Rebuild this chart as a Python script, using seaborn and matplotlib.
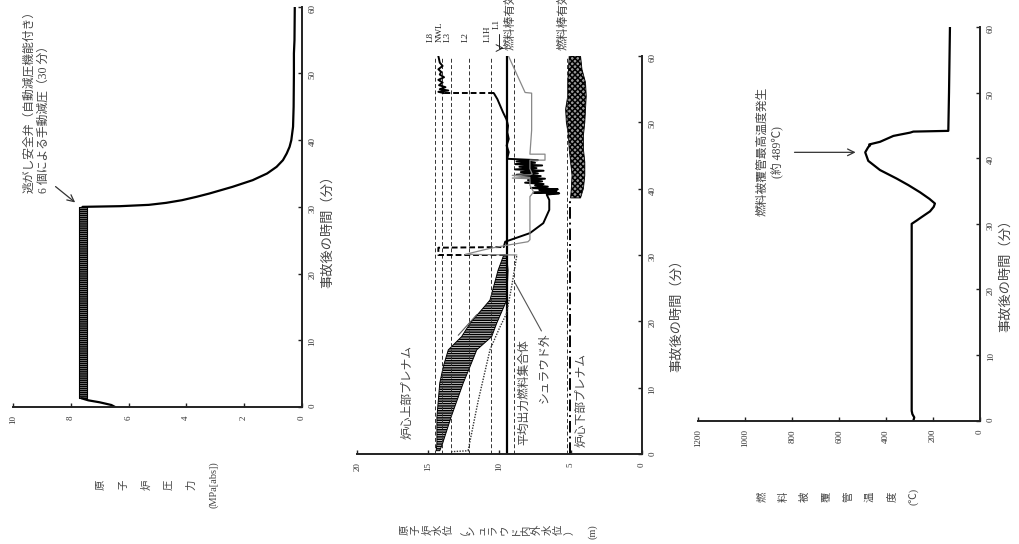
import matplotlib
matplotlib.use("Agg")
import matplotlib.pyplot as plt
import seaborn as sns

# ---------------- panel 1 : reactor pressure ----------------
press_start_t = [0.0, 0.3, 0.7, 1.0, 1.3]
press_start_p = [6.47, 6.6, 7.0, 7.4, 7.63]
relief_t = [1.3, 30.0]            # SRV cycling band
relief_lo = [7.45, 7.45]
relief_hi = [7.72, 7.72]
depress_t = [30.0, 30.1, 30.3, 30.6, 31.0, 31.5, 32.0, 33.0, 34.0, 35.0, 36.0,
             37.0, 38.0, 39.0, 40.0, 42.0, 45.0, 50.0, 53.0, 55.0, 60.0]
depress_p = [7.6, 6.3, 5.3, 4.7, 4.15, 3.65, 3.2, 2.4, 1.7, 1.2, 0.87,
             0.65, 0.52, 0.42, 0.36, 0.3, 0.28, 0.27, 0.27, 0.25, 0.24]

# ---------------- panel 2 : water level ----------------
level_values = [14.54, 14.07, 13.41, 12.14, 10.62]
level_names = ["L8", "NWL", "L3", "L2", "L1H"]
fuel_top = 8.95
fuel_bottom = 5.27
l1_level = 9.45

band_t = [0.5, 1.6, 5.6, 10.7, 13.2, 15.7, 17.7, 19.7, 23.2, 27.7, 30.0]
band_hi = [14.45, 14.4, 14.4, 14.2, 13.95, 13.6, 12.66, 12.07, 10.67, 10.1, 9.7]
band_lo = [14.2, 14.0, 13.4, 12.55, 12.07, 11.6, 10.55, 10.2, 9.49, 9.4, 9.5]

plenum_jump_t = [30.0, 30.0, 31.1, 31.2]
plenum_jump_l = [9.6, 14.3, 14.3, 9.7]
plenum_t = [31.2, 32.0, 33.3, 34.8, 36.8, 38.3, 39.1,
            39.3, 39.4, 39.6, 39.8, 39.9, 40.1, 40.3, 40.5, 40.7, 40.9, 41.1,
            41.3, 41.5, 41.7, 41.9, 42.1, 42.3, 42.5, 42.7, 42.9, 43.1, 43.3,
            43.5, 43.7, 43.9, 44.1, 44.3, 44.5,
            44.6, 45.5, 46.5, 47.5, 48.5, 49.5, 50.4, 51.5, 52.5, 53.5, 54.4]
plenum_l = [9.7, 9.6, 7.86, 6.92, 6.5, 6.5, 6.68,
            5.8, 7.6, 6.0, 7.2, 5.9, 7.8, 6.6, 7.5, 6.9, 8.2, 7.0,
            8.0, 6.8, 8.4, 7.1, 8.8, 7.3, 8.5, 6.9, 8.9, 7.4, 8.6,
            7.0, 8.9, 7.5, 8.8, 7.3, 9.45,
            9.45, 9.35, 9.5, 9.35, 9.45, 9.4, 9.5, 9.75, 9.95, 10.15, 10.4]
refill_jump_t = [54.4, 54.4]
refill_jump_l = [10.4, 13.9]
refill_t = [54.4, 54.6, 54.8, 55.0, 55.3, 55.6, 56.0, 56.4, 56.8, 57.2,
            57.6, 58.0, 58.5, 59.0, 59.5, 60.0]
refill_l = [13.9, 14.3, 13.6, 14.2, 13.8, 14.25, 14.0, 14.3, 13.9, 14.2,
            14.1, 14.3, 14.0, 14.2, 14.25, 14.3]

shroud_pre_t = [0.35, 0.5, 0.6, 8.0, 15.7, 19.0, 21.2, 25.8, 30.0]
shroud_pre_l = [13.4, 12.1, 12.2, 11.5, 10.67, 10.0, 9.5, 9.1, 8.78]
shroud_post_t = [30.0, 30.1, 31.0, 31.5, 32.0, 32.3, 38.8, 39.5, 40.5, 41.5,
                 41.6, 41.7, 42.0, 42.1, 42.2, 43.0, 44.3, 44.3, 45.2, 45.2,
                 48.8, 54.4, 54.5, 60.0]
shroud_post_l = [8.78, 12.4, 10.67, 9.4, 8.0, 7.86, 7.86, 7.6, 7.86, 7.86,
                 9.1, 7.86, 9.1, 7.86, 7.7, 7.86, 7.86, 6.8, 6.8, 7.86,
                 7.74, 7.74, 8.2, 9.37]

lower_t = [0.0, 38.6]
lower_l = [5.04, 5.04]
lower_noise_t = [38.6, 40, 42, 44, 46, 48, 50, 52, 54, 56, 58, 60]
lower_noise_hi = [5.0, 4.95, 4.9, 5.0, 5.1, 5.15, 5.3, 5.35, 5.2, 5.2, 5.15, 5.1]
lower_noise_lo = [4.3, 4.1, 4.0, 4.0, 4.1, 4.1, 4.0, 3.95, 3.9, 3.95, 4.2, 4.3]

# ---------------- panel 3 : cladding temperature ----------------
temp_t = [0.0, 0.5, 1.0, 1.5, 30.0, 30.5, 31.0, 31.9, 32.6, 33.1, 33.8, 34.8,
          35.9, 36.9, 38.2, 39.6, 40.9, 41.7, 41.96, 42.1, 42.5, 43.4, 43.6,
          43.9, 44.06, 44.17, 50.0, 60.0]
temp_c = [284, 280, 288, 291, 291, 270, 250, 213, 197, 192, 215, 255,
          305, 355, 426, 476, 489, 476, 468, 472, 426, 369, 341,
          298, 284, 135, 132, 128]

W, H = 1020, 544


def box(x0, x1, y_top, y_bot):
    return [x0 / W, 1 - y_bot / H, (x1 - x0) / W, (y_bot - y_top) / H]


def fpx(x, y):
    return x / W, 1 - y / H


def style_axis(ax, xmax, xstep):
    ax.set_xlim(xmax, 0)
    ax.set_ylim(0, 60)
    ax.set_xticks(range(0, xmax + 1, xstep))
    ax.set_yticks(range(0, 61, 10))
    ax.set_xlabel("")
    ax.set_ylabel("")
    for s in ["left", "top"]:
        ax.spines[s].set_visible(False)
    for s in ["right", "bottom"]:
        ax.spines[s].set_linewidth(1.4)
        ax.spines[s].set_color("#222")
    ax.yaxis.tick_right()
    ax.tick_params(direction="in", length=3, width=1, labelsize=6.5,
                   labelcolor="#333", color="#222")
    ax.tick_params(axis="x", labelrotation=90, pad=6, bottom=True)
    ax.tick_params(axis="y", labelrotation=90, pad=5, right=True)
    ax.set_facecolor("none")


sns.set_theme(style="white")
plt.rcParams["font.family"] = ["Liberation Serif", "Noto Sans CJK JP"]
plt.rcParams["hatch.linewidth"] = 1.1
plt.rcParams["axes.unicode_minus"] = False

fig = plt.figure(figsize=(10.2, 5.44), dpi=100)
ax1 = fig.add_axes(box(13.3, 301.7, 6.7, 407))
ax2 = fig.add_axes(box(357.3, 641.7, 56, 454))
ax3 = fig.add_axes(box(698.3, 980, 27, 420.7))

txt = "#444"
cjk = ["Noto Sans CJK JP", "DejaVu Sans"]

# ---- panel 1
sns.lineplot(x=press_start_p, y=press_start_t, sort=False, estimator=None,
             color="black", lw=1.6, ax=ax1)
ax1.fill_betweenx(relief_t, relief_lo, relief_hi, facecolor="#bbb",
                  edgecolor="black", hatch="--------", linewidth=0.8)
sns.lineplot(x=depress_p, y=depress_t, sort=False, estimator=None,
             color="black", lw=1.6, ax=ax1)
style_axis(ax1, 10, 2)
ax1.text(9.66, 32.1, "逃がし安全弁（自動減圧機能付き）\n6 個による手動減圧（30 分）",
         rotation=90, ha="left", va="bottom", multialignment="left",
         fontsize=8.5, color=txt, linespacing=1.25)
ax1.annotate("", xy=(7.78, 30.4), xytext=(8.61, 33.3),
             arrowprops=dict(arrowstyle="->", color="#333", lw=0.9))

# ---- panel 2
for lv in level_values + [fuel_top, fuel_bottom]:
    ax2.axvline(lv, color="#333", lw=0.7, linestyle=(0, (4, 2.5)))
ax2.axvline(l1_level, color="black", lw=1.6)
ax2.fill_betweenx(band_t, band_lo, band_hi, facecolor="#ddd",
                  edgecolor="black", hatch="-------", linewidth=0.7)
sns.lineplot(x=plenum_jump_l, y=plenum_jump_t, sort=False, estimator=None,
             color="black", lw=1.4, linestyle=(0, (3, 1.5)), ax=ax2)
sns.lineplot(x=plenum_l, y=plenum_t, sort=False, estimator=None,
             color="black", lw=1.4, ax=ax2)
sns.lineplot(x=refill_jump_l, y=refill_jump_t, sort=False, estimator=None,
             color="black", lw=1.4, linestyle=(0, (3, 1.5)), ax=ax2)
sns.lineplot(x=refill_l, y=refill_t, sort=False, estimator=None,
             color="black", lw=1.4, ax=ax2)
sns.lineplot(x=shroud_pre_l, y=shroud_pre_t, sort=False, estimator=None,
             color="#333", lw=1.0, linestyle=(0, (1, 1)), ax=ax2)
sns.lineplot(x=shroud_post_l, y=shroud_post_t, sort=False, estimator=None,
             color="#888", lw=0.9, ax=ax2)
sns.lineplot(x=lower_l, y=lower_t, sort=False, estimator=None,
             color="black", lw=1.4, linestyle=(0, (6, 2, 1, 2)), ax=ax2)
ax2.fill_betweenx(lower_noise_t, lower_noise_lo, lower_noise_hi,
                  facecolor="#999", edgecolor="black", hatch="xxxxxx",
                  linewidth=0.6)
style_axis(ax2, 20, 5)

label_offsets = [0.32, 0.1, 0.2, 0.22, 0.22]
for lv, name, off in zip(level_values, level_names, label_offsets):
    ax2.text(lv + off, 62.1, name, rotation=90, ha="center", va="bottom",
             fontsize=6.5, color="#222", clip_on=False)
ax2.text(10.18, 64.0, "L1", rotation=90, ha="center", va="bottom",
         fontsize=6.5, color="#222", clip_on=False)
ax2.annotate("", xy=(9.5, 61.2), xytext=(10.0, 63.8), annotation_clip=False,
             arrowprops=dict(arrowstyle="->", color="#222", lw=0.7,
                             connectionstyle="angle,angleA=-90,angleB=180,rad=0"))
ax2.text(fuel_top + 0.3, 60.9, "燃料棒有効長頂部", rotation=90, ha="center",
         va="bottom", fontsize=8.5, color=txt, family=cjk, clip_on=False)
ax2.text(fuel_bottom + 0.3, 60.9, "燃料棒有効長底部", rotation=90, ha="center",
         va="bottom", fontsize=8.5, color=txt, family=cjk, clip_on=False)
ax2.text(16.5, 9.35, "炉心上部プレナム", rotation=90, ha="center", va="center",
         fontsize=8.5, color=txt, family=cjk)
ax2.text(8.28, 9.35, "平均出力燃料集合体", rotation=90, ha="center", va="center",
         fontsize=8.5, color=txt, family=cjk)
ax2.text(6.87, 12.97, "シュラウド外", rotation=90, ha="center", va="center",
         fontsize=8.5, color=txt, family=cjk)
ax2.text(4.27, 8.1, "炉心下部プレナム", rotation=90, ha="center", va="center",
         fontsize=8.5, color=txt, family=cjk)
ax2.plot([7.05, 8.91], [18.55, 25.8], color="#555", lw=0.8)
ax2.plot([12.9, 11.6], [17.9, 21.0], color="#555", lw=0.8)

# ---- panel 3
sns.lineplot(x=temp_c, y=temp_t, sort=False, estimator=None,
             color="black", lw=1.6, ax=ax3)
style_axis(ax3, 1200, 200)
ax3.text(894, 41.0, "燃料被覆管最高温度発生\n(約 489℃)", rotation=90,
         ha="center", va="center", multialignment="center", fontsize=8.5,
         color=txt, linespacing=1.3)
ax3.annotate("", xy=(518, 40.9), xytext=(802, 40.9),
             arrowprops=dict(arrowstyle="->", color="#333", lw=0.9))

# ---- axis titles (rotated page layout)
for i, ch in enumerate(["原", "子", "炉", "圧", "力", "(MPa[abs])"]):
    fig.text(*fpx(101.5 + 22.5 * i, 485), ch, rotation=90, ha="center",
             va="center", fontsize=7.5, color=txt)
for i, ch in enumerate("原子炉水位（シュラウド内外水位）"):
    fig.text(*fpx(405 + 11 * i, 530), ch, rotation=90, ha="center",
             va="center", fontsize=7.5, color=txt, family=cjk)
fig.text(*fpx(593, 532), "(m)", rotation=90, ha="center", va="center",
         fontsize=7.5, color=txt)
for i, ch in enumerate(["燃", "料", "被", "覆", "管", "温", "度", "(℃)"]):
    fig.text(*fpx(761.7 + 21.7 * i, 496.7), ch, rotation=90, ha="center",
             va="center", fontsize=7.5, color=txt)

for x, y in [(328, 228), (677, 312), (1006, 272)]:
    fig.text(*fpx(x, y), "事故後の時間（分）", rotation=90, ha="center",
             va="center", fontsize=9.5, color=txt)

fig.savefig("out.png", dpi=100, facecolor="white")
